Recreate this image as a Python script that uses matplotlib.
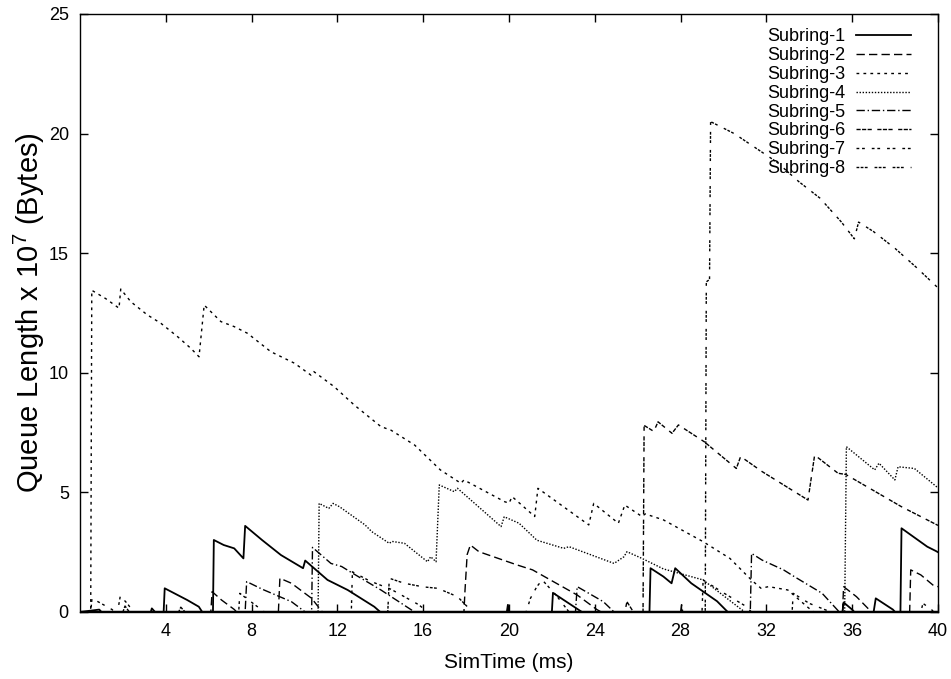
import matplotlib
matplotlib.use("Agg")
import matplotlib.pyplot as plt

# (time ms, queue length x 1e7 bytes) breakpoints
subring1 = [(0, 0), (0.9, 0.1), (1.0, 0), (3.3, 0), (3.35, 0.15), (3.5, 0),
            (3.9, 0), (3.95, 0.99), (4.55, 0.71),
            (5.0, 0.5), (5.54, 0.22), (5.7, 0), (6.2, 0), (6.24, 3.01), (6.7, 2.8),
            (7.19, 2.66), (7.62, 2.24), (7.7, 3.6), (8.5, 3.0), (9.37, 2.38),
            (10.4, 1.83), (10.5, 2.15), (11.54, 1.34), (12.48, 0.92), (13.72, 0.22),
            (14.0, 0), (19.9, 0), (19.95, 0.3), (20.0, 0), (22.0, 0), (22.05, 0.8),
            (23.4, 0), (26.55, 0), (26.6, 1.83),
            (27.2, 1.48), (27.58, 1.2), (27.75, 1.83), (28.5, 1.2), (29.7, 0.45),
            (30.2, 0), (35.55, 0), (35.6, 0.4), (36.0, 0.1), (36.1, 0), (37.0, 0),
            (37.1, 0.57), (37.9, 0.1), (38.0, 0), (38.25, 0), (38.3, 3.5),
            (39.5, 2.73), (39.9, 2.55), (40, 2.5)]

subring2 = [(0, 0), (6.1, 0), (6.16, 0.85), (6.6, 0.5), (7.2, 0.1), (7.3, 0),
            (9.25, 0), (9.32, 1.41), (9.86, 1.2), (10.8, 0.57), (11.3, 0),
            (17.9, 0), (17.95, 0.9), (18.05, 2.4), (18.2, 2.8), (18.6, 2.52),
            (19.5, 2.24), (20.4, 1.96), (21.1, 1.76), (21.93, 1.34), (23.18, 0.71),
            (24.1, 0.1), (24.3, 0), (28.0, 0), (28.05, 0.3), (28.1, 0),
            (35.55, 0), (35.6, 1.06), (36.2, 0.64),
            (36.9, 0), (38.68, 0), (38.73, 1.76), (39.2, 1.55), (39.8, 1.1),
            (40, 1.06)]

subring3 = [(0, 0), (0.5, 0), (0.55, 13.45), (0.66, 13.39), (1.2, 13.1),
            (1.82, 12.7), (1.9, 13.5), (2.37, 12.97), (3.14, 12.42), (3.77, 12.07),
            (4.55, 11.51), (5.17, 11.02), (5.55, 10.67), (5.79, 12.83),
            (6.57, 12.14), (7.19, 11.93), (7.81, 11.65), (8.9, 10.88), (10.0, 10.4),
            (10.77, 9.9), (10.9, 10.05), (11.85, 9.42), (12.79, 8.65),
            (14.03, 7.75), (14.5, 7.6), (15.6, 6.98), (16.8, 5.94), (17.76, 5.38),
            (17.9, 5.52), (19.8, 4.61), (20.0, 4.55), (20.15, 4.82), (21.2, 3.99),
            (21.35, 5.17), (23.72, 3.64), (23.95, 4.54), (25.1, 3.71), (25.4, 4.47),
            (26.2, 3.99), (26.35, 4.1), (27.2, 3.85), (29.05, 2.94), (30.3, 2.24),
            (31.3, 1.34), (31.75, 0.99), (32.1, 1.06), (33.0, 0.92), (33.9, 0.22),
            (34.2, 0), (40, 0)]

subring4 = [(0, 0), (11.1, 0), (11.15, 4.54), (11.6, 4.33), (11.8, 4.54),
            (12.1, 4.4), (13.29, 3.64), (13.6, 3.36), (14.42, 2.87), (14.55, 2.95),
            (15.13, 2.87), (16.2, 2.1), (16.35, 2.31), (16.6, 2.1), (16.75, 5.31),
            (17.45, 5.03), (17.6, 5.17), (19.63, 3.57), (19.78, 3.98), (20.47, 3.71),
            (21.3, 3.0), (22.55, 2.66), (22.8, 2.73), (24.9, 2.03), (25.36, 2.31),
            (25.5, 2.52), (26.2, 2.24), (27.2, 1.8), (29.05, 1.34), (30.77, 0.15),
            (31.0, 0), (35.65, 0), (35.73, 6.91), (37.05, 5.94), (37.25, 6.22),
            (37.99, 5.52), (38.14, 6.07), (38.9, 6.0), (39.93, 5.24), (40, 5.2)]

subring5 = [(0, 0), (7.7, 0), (7.77, 1.27), (8.5, 0.95), (9.86, 0.43), (10.5, 0),
            (10.8, 0), (10.84, 2.7), (11.7, 2.03), (12.2, 1.9), (12.71, 1.62),
            (14.03, 0.92), (15.6, 0), (23.1, 0), (23.18, 1.06), (24.4, 0.43),
            (24.9, 0), (31.25, 0), (31.31, 2.45), (31.8, 2.17), (32.8, 1.76),
            (33.3, 1.48), (34.6, 0.78), (35.4, 0), (40, 0)]

subring6 = [(0, 0), (2.0, 0), (2.1, 0.25), (2.3, 0), (4.6, 0), (4.7, 0.2),
            (4.9, 0), (25.4, 0), (25.5, 0.43), (25.8, 0), (26.25, 0), (26.3, 7.8),
            (26.75, 7.55), (26.95, 7.95), (27.6, 7.47), (27.9, 7.82), (29.1, 7.12),
            (30.6, 6.0), (30.8, 6.5), (31.8, 5.87), (33.94, 4.68), (34.25, 6.56),
            (35.34, 5.8), (35.7, 5.75), (38.3, 4.4), (40, 3.62)]

subring7 = [(0, 0), (0.5, 0), (0.56, 0.57), (1.5, 0.1), (1.6, 0), (1.75, 0),
            (1.88, 0.67), (2.2, 0.36), (2.5, 0), (7.4, 0), (7.45, 0.78), (8.6, 0),
            (12.65, 0), (12.7, 1.68), (13.5, 1.3), (14.5, 0.95), (15.8, 0.3),
            (16.2, 0), (20.8, 0), (21.0, 0.57), (21.3, 1.06), (21.55, 1.34),
            (22.2, 0.7), (22.8, 0), (29.0, 0), (29.05, 1.34), (30.0, 0.8),
            (31.08, 0.22), (31.3, 0), (33.2, 0), (33.25, 0.78), (34.0, 0.36),
            (35.0, 0), (39.2, 0), (39.3, 0.36), (39.7, 0.1), (39.8, 0), (40, 0)]

subring8 = [(0, 0), (14.35, 0), (14.42, 1.41), (15.12, 1.2), (16.0, 1.05),
            (16.68, 0.99), (17.6, 0.64), (18.3, 0), (29.15, 0), (29.2, 13.8),
            (29.35, 13.9), (29.4, 20.5), (30.5, 20.0), (31.5, 19.4), (32.5, 18.8),
            (33.5, 18.0), (34.5, 17.3), (35.5, 16.3), (36.1, 15.6), (36.3, 16.3),
            (37.0, 15.9), (38.0, 15.2), (39.0, 14.4), (40, 13.55)]

series = [subring1, subring2, subring3, subring4,
          subring5, subring6, subring7, subring8]
labels = ["Subring-%d" % (i + 1) for i in range(8)]
styles = ["-", (0, (6, 3)), (0, (2, 3)), (0, (1, 1.2)),
          (0, (6, 2, 1, 2)), (0, (3, 1, 3, 1, 3, 4)),
          (0, (2, 2, 2, 5)), (0, (2, 1, 2, 1, 2, 5))]

xticks = [4, 8, 12, 16, 20, 24, 28, 32, 36, 40]
yticks = [0, 5, 10, 15, 20, 25]

plt.rcParams["font.family"] = ["Liberation Sans", "DejaVu Sans"]
plt.rcParams["mathtext.fontset"] = "custom"
plt.rcParams["mathtext.rm"] = "Liberation Sans"

fig = plt.figure(figsize=(9.51, 6.79), dpi=100)
ax = fig.add_axes([0.0841, 0.0987, 0.9022, 0.8807])

for data, label, ls in zip(series, labels, styles):
    t = [p[0] for p in data]
    v = [p[1] for p in data]
    lw = 1.3 if ls == "-" else 1.0
    ax.plot(t, v, color="black", linestyle=ls, linewidth=lw, label=label)

# the many idle subrings make the zero line look thick
ax.axhline(0, color="black", linewidth=2.5)

ax.set_xlim(0, 40)
ax.set_ylim(0, 25)
ax.set_xticks(xticks)
ax.set_yticks(yticks)
ax.tick_params(direction="in", length=6, width=1, labelsize=13,
               top=True, right=True, pad=8)
for s in ax.spines.values():
    s.set_linewidth(1.0)

ax.set_xlabel("SimTime (ms)", fontsize=15, labelpad=9)
ax.set_ylabel("Queue Length x 10$^{7}$ (Bytes)", fontsize=21, labelpad=1)

ax.legend(loc="upper right", frameon=False, markerfirst=False, fontsize=13,
          handlelength=3.0, handletextpad=0.6, labelspacing=0.1,
          borderaxespad=0.4, bbox_to_anchor=(0.985, 1.0))

fig.savefig("out.png", dpi=100)
